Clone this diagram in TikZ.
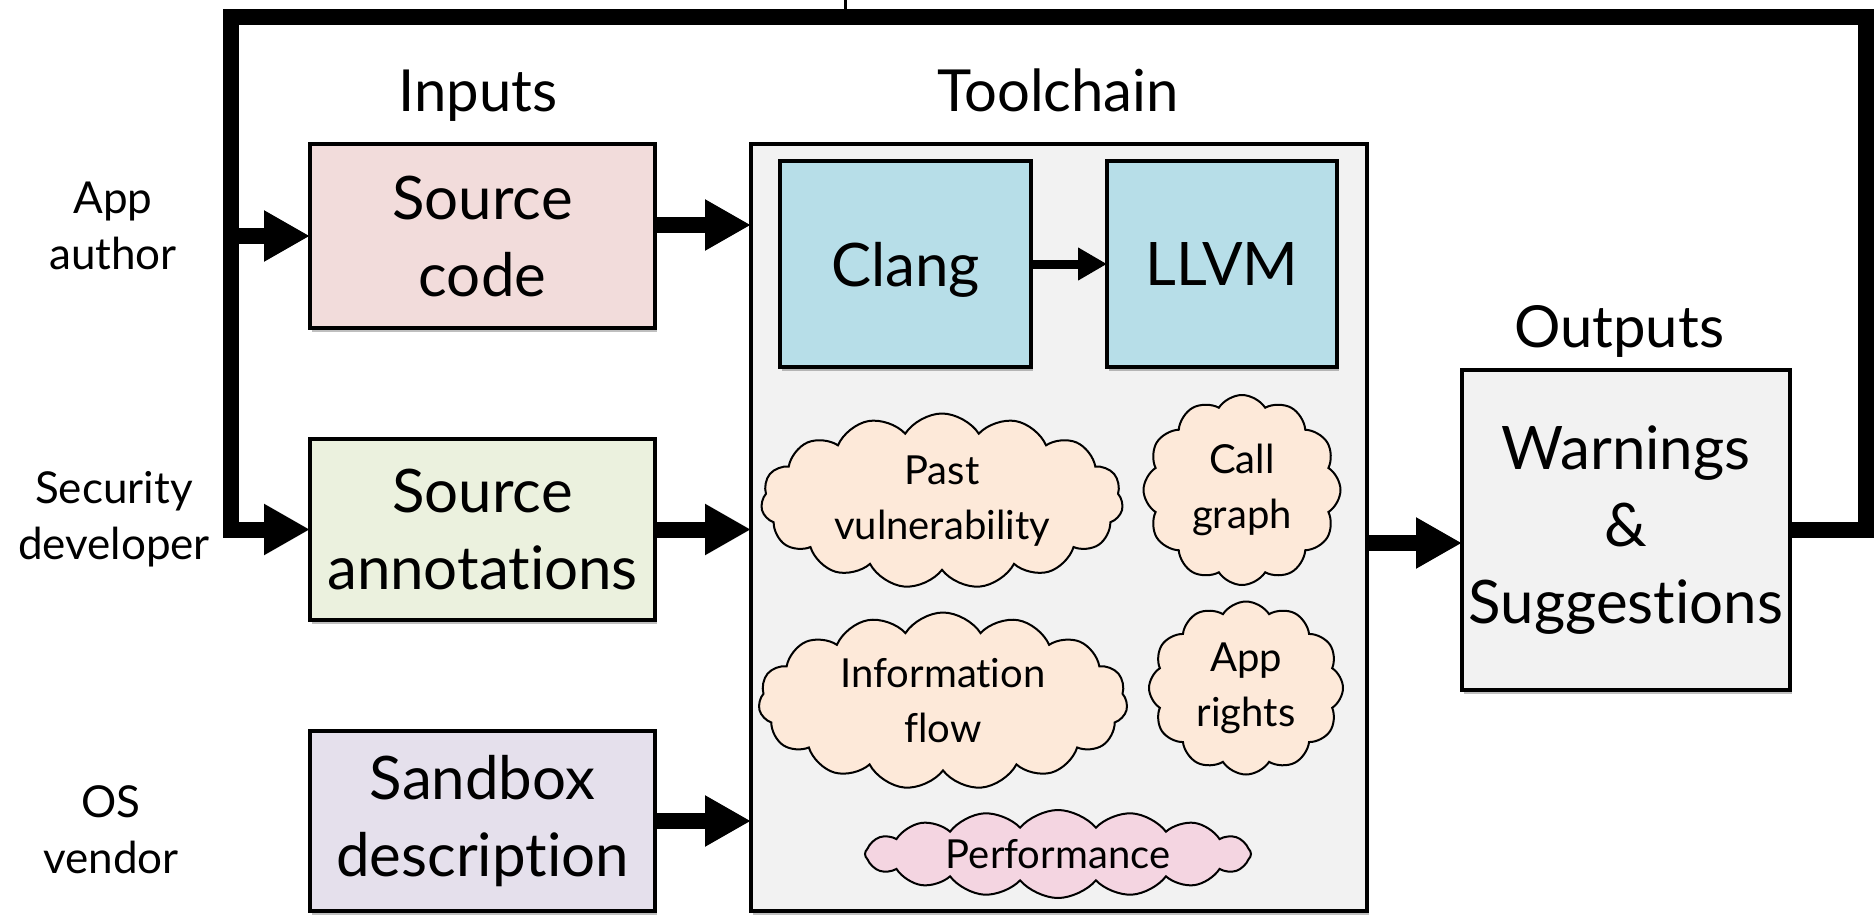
\documentclass[tikz,border=0pt]{standalone}
\usepackage{fontspec}
\setmainfont{Lato}[Ligatures=NoCommon]
\usetikzlibrary{arrows.meta,shapes.symbols,shadows}

\definecolor{srcpink}{HTML}{F2DCDB}
\definecolor{annotgreen}{HTML}{EBF1DE}
\definecolor{sandpurple}{HTML}{E5E0EC}
\definecolor{toolgray}{HTML}{F2F2F2}
\definecolor{compblue}{HTML}{B7DEE8}
\definecolor{peach}{HTML}{FDE9D9}
\definecolor{perfpink}{HTML}{F4D5E1}

\begin{document}
\begin{tikzpicture}[x=1pt,y=-1pt,
  every node/.style={inner sep=0pt, outer sep=0pt},
  boxstyle/.style={draw=black, line width=4pt, align=center,
    font=\fontsize{60}{77}\selectfont,
    drop shadow={shadow xshift=2pt, shadow yshift=-4pt, opacity=0.25, fill=black}},
  cloudstyle/.style 2 args={cloud, cloud puffs=#1, cloud puff arc=#2, cloud ignores aspect,
    draw=black, line width=2pt, align=center, font=\fontsize{40}{55}\selectfont},
  titlestyle/.style={anchor=base, font=\fontsize{58}{70}\selectfont},
  rolestyle/.style={align=center, font=\fontsize{44}{56}\selectfont},
  flow/.style={line width=16pt, -{Triangle[length=46pt,width=48pt]}},
  thinflow/.style={line width=9pt, -{Triangle[length=29pt,width=31pt]}},
  loop/.style={line width=16pt, line join=miter}
]
\useasboundingbox (0,0) rectangle (1876,915);

% column titles
\node[titlestyle] (tInputs) at (478,112) {Inputs};
\node[titlestyle] (tTool) at (1058,112) {Toolchain};
\node[titlestyle] (tOut) at (1619,347) {Outputs};

% stakeholders
\node[rolestyle] (rApp) at (113,226) {App\\author};
\node[rolestyle] (rSec) at (114,519) {Security\\developer};
\node[rolestyle] (rOS) at (111,830) {OS\\vendor};

% inputs
\node[boxstyle, fill=srcpink, minimum width=345pt, minimum height=184pt] (src) at (482.5,236) {Source\\code};
\node[boxstyle, fill=annotgreen, minimum width=345pt, minimum height=181pt] (annot) at (482.5,529.5) {Source\\annotations};
\node[boxstyle, fill=sandpurple, minimum width=345pt, minimum height=180pt] (sandbox) at (482.5,821) {Sandbox\\description};

% toolchain container
\node[boxstyle, fill=toolgray, minimum width=616pt, minimum height=767pt] (tool) at (1059,527.5) {};
\node[boxstyle, fill=compblue, minimum width=251pt, minimum height=206pt, text depth=0pt] (clang) at (905.5,264) {Clang};
\node[boxstyle, fill=compblue, minimum width=230pt, minimum height=206pt, text depth=0pt] (llvm) at (1222,264) {LLVM};

% analyses
\node[cloudstyle={15}{115}, fill=peach, minimum width=362pt, minimum height=175pt] (past) at (942,501) {Past\\vulnerability};
\node[cloudstyle={12}{115}, fill=peach, minimum width=197pt, minimum height=190pt] (callg) at (1242,490) {Call\\graph};
\node[cloudstyle={15}{115}, fill=peach, minimum width=369pt, minimum height=177pt] (info) at (943,701) {Information\\flow};
\node[cloudstyle={12}{115}, fill=peach, minimum width=194pt, minimum height=173pt] (rights) at (1246,688) {App\\rights};
\node[cloudstyle={16}{100}, fill=perfpink, minimum width=386pt, minimum height=88pt] (perf) at (1058,854) {Performance};

% outputs
\node[boxstyle, fill=toolgray, minimum width=328pt, minimum height=320pt] (warn) at (1626,530) {Warnings\\\&\\Suggestions};

% data flow
\draw[thinflow] (clang.east) -- (llvm.west);
\draw[flow] ([yshift=11pt]src.east) -- ([yshift=11pt]src.east -| tool.west);
\draw[flow] (annot.east) -- (annot.east -| tool.west);
\draw[flow] (sandbox.east) -- (sandbox.east -| tool.west);
\draw[flow] ([yshift=-13pt]warn.west -| tool.east) -- ([yshift=-13pt]warn.west);

% feedback loop from outputs back to the inputs
\coordinate (fbR) at (1866,530);
\coordinate (fbTR) at (1866,17);
\coordinate (fbTL) at (231,17);
\coordinate (fbBL) at (231,529.5);
\coordinate (fbMid) at (231,236);
\draw[loop] (warn.east) -- (fbR) -- (fbTR) -- (fbTL) -- (fbBL);
\draw[flow] ([xshift=-8pt]fbBL) -- (annot.west);
\draw[flow] (fbMid) -- (src.west);

% short stub above the loop
\coordinate (stubA) at (845,0);
\coordinate (stubB) at (845,12);
\draw[line width=3pt] (stubA) -- (stubB);
\end{tikzpicture}
\end{document}
